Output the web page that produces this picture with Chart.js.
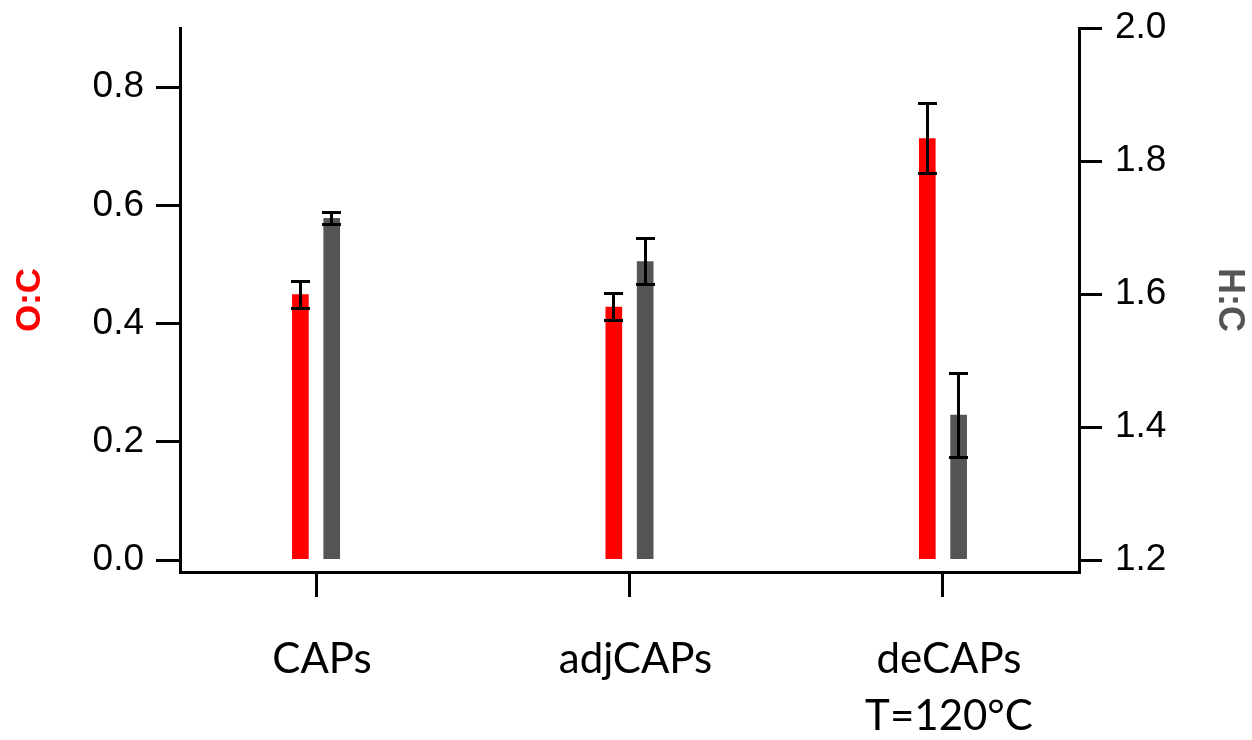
<!DOCTYPE html>
<html>
<head>
<meta charset="utf-8">
<script src="https://cdn.jsdelivr.net/npm/chart.js@4"></script>
<style>
  html, body { margin: 0; padding: 0; background: #fff; }
  canvas { display: block; }
</style>
</head>
<body>
<canvas id="chart" width="1252" height="740"></canvas>
<script>
// Sample groups along the x axis
const categories = ['CAPs', 'adjCAPs', ['deCAPs', 'T=120°C']];

// O:C ratio (left axis) with symmetric error half-widths
const ocValues = [0.449, 0.428, 0.713];
const ocErrors = [0.023, 0.023, 0.059];

// H:C ratio (right axis) with symmetric error half-widths
const hcValues = [1.714, 1.649, 1.418];
const hcErrors = [0.009, 0.035, 0.063];

// Axis tick values
const ocTicks = [0.0, 0.2, 0.4, 0.6, 0.8];
const hcTicks = [1.2, 1.4, 1.6, 1.8, 2.0];

const RED = '#ff0000';
const GREY = '#555555';
const SHIFT = 0.05;            // bar offset from the group centre, in category units
const TICK_FONT = { family: '"Liberation Sans", Arial, sans-serif', size: 37 };

// Snap a coordinate to a pixel centre so 3px strokes stay crisp
const crisp = (p) => Math.floor(p) + 0.5;

// Draws vertical error bars with caps on top of each bar
const errorBars = {
  id: 'errorBars',
  afterDatasetsDraw(chart) {
    const ctx = chart.ctx;
    ctx.save();
    ctx.strokeStyle = '#000';
    ctx.lineWidth = 3;
    ctx.lineCap = 'butt';
    chart.data.datasets.forEach((ds, di) => {
      const meta = chart.getDatasetMeta(di);
      const yScale = chart.scales[ds.yAxisID];
      meta.data.forEach((bar, i) => {
        const v = ds.values[i], e = ds.errors[i];
        const yHi = crisp(yScale.getPixelForValue(v + e));
        const yLo = crisp(yScale.getPixelForValue(v - e));
        const x = crisp(bar.x), half = 9.5;
        ctx.beginPath();
        ctx.moveTo(x, yHi); ctx.lineTo(x, yLo);
        ctx.moveTo(x - half, yHi); ctx.lineTo(x + half, yHi);
        ctx.moveTo(x - half, yLo); ctx.lineTo(x + half, yLo);
        ctx.stroke();
      });
    });
    ctx.restore();
  }
};

const axisGrid = (len) => ({
  drawOnChartArea: false,
  drawTicks: true,
  offset: false,
  tickLength: len,
  lineWidth: 3,
  color: '#000'
});

// Fix a vertical axis to a given width and drop its label overhang padding
const fixWidth = (w) => (s) => { s.width = w; s.paddingTop = 0; s.paddingBottom = 0; };

new Chart(document.getElementById('chart'), {
  type: 'bar',
  data: {
    datasets: [
      {
        label: 'O:C',
        yAxisID: 'yOC',
        data: ocValues.map((v, i) => ({ x: i - SHIFT, y: v })),
        values: ocValues,
        errors: ocErrors,
        backgroundColor: RED,
        base: 0,
        barThickness: 16,
        grouped: false,
        borderWidth: 0
      },
      {
        label: 'H:C',
        yAxisID: 'yHC',
        data: hcValues.map((v, i) => ({ x: i + SHIFT, y: v })),
        values: hcValues,
        errors: hcErrors,
        backgroundColor: GREY,
        base: 1.2,
        barThickness: 16,
        grouped: false,
        borderWidth: 0
      }
    ]
  },
  options: {
    responsive: false,
    animation: false,
    devicePixelRatio: 1,
    layout: { padding: { top: 28, left: 0, right: 0, bottom: 0 } },
    plugins: { legend: { display: false }, tooltip: { enabled: false } },
    scales: {
      x: {
        type: 'linear',
        position: 'bottom',
        offset: false,
        min: -0.434,
        max: 2.434,
        afterBuildTicks: (s) => { s.ticks = categories.map((_, i) => ({ value: i })); },
        afterFit: (s) => { s.height = 168; s.paddingLeft = 0; s.paddingRight = 0; },
        grid: axisGrid(25),
        border: { display: true, width: 3, color: '#000' },
        ticks: {
          callback: (value, index) => categories[index],
          font: { family: 'Lato, "Open Sans", sans-serif', size: 42, lineHeight: 1.38 },
          color: '#000',
          padding: 33,
          labelOffset: 6,
          maxRotation: 0,
          autoSkip: false
        }
      },
      yOC: {
        type: 'linear',
        position: 'left',
        min: -0.02,
        max: 0.9,
        afterBuildTicks: (s) => { s.ticks = ocTicks.map(v => ({ value: v })); },
        afterFit: fixWidth(180),
        grid: axisGrid(24),
        border: { display: true, width: 3, color: '#000' },
        ticks: {
          callback: (v) => v.toFixed(1),
          font: TICK_FONT,
          color: '#000',
          padding: 12
        },
        title: {
          display: true,
          text: 'O:C',
          color: RED,
          font: { family: '"Liberation Sans", Arial, sans-serif', size: 35, weight: 'bold', lineHeight: 1.2 },
          padding: { top: 9, bottom: 0 }
        }
      },
      yHC: {
        type: 'linear',
        position: 'right',
        min: 1.2 - 0.02 * 0.8 / 0.9,
        max: 2.0,
        afterBuildTicks: (s) => { s.ticks = hcTicks.map(v => ({ value: v })); },
        afterFit: fixWidth(173),
        grid: axisGrid(23),
        border: { display: true, width: 3, color: '#000' },
        ticks: {
          callback: (v) => v.toFixed(1),
          font: TICK_FONT,
          color: '#000',
          padding: 13
        },
        title: {
          display: true,
          text: 'H:C',
          color: GREY,
          font: { family: '"Liberation Sans", Arial, sans-serif', size: 36, weight: 'bold', lineHeight: 1.2 },
          padding: { top: 1, bottom: 0 }
        }
      }
    }
  },
  plugins: [errorBars]
});
</script>
</body>
</html>
